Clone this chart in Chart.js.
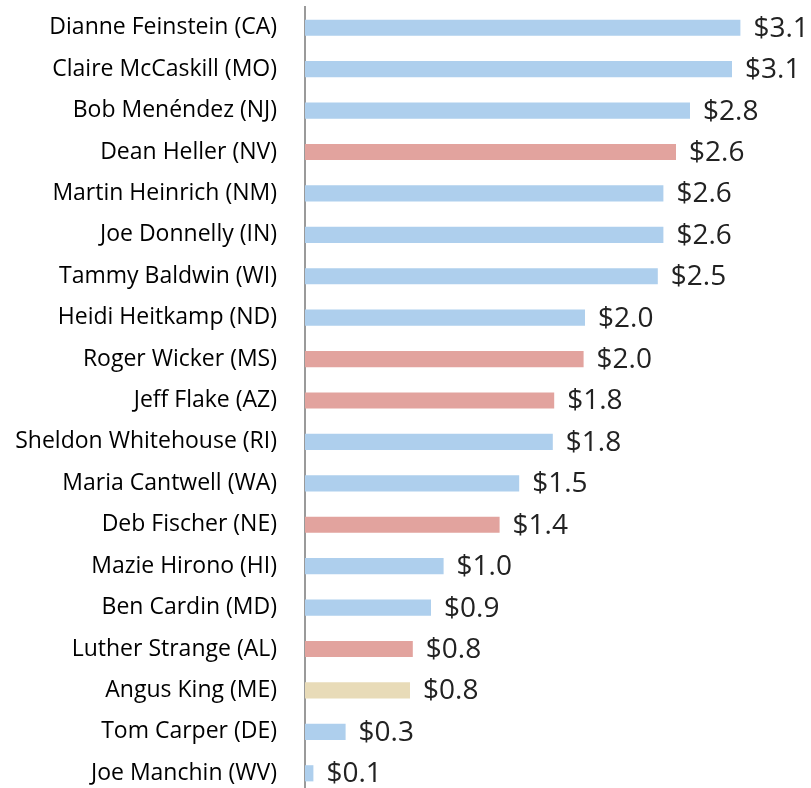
<!DOCTYPE html>
<html>
<head>
<meta charset="utf-8">
<script src="https://cdn.jsdelivr.net/npm/chart.js@4.4.1/dist/chart.umd.min.js"></script>
<style>
    html, body { margin: 0; padding: 0; background: #fff; overflow: hidden; }
    canvas { display: block; }
</style>
</head>
<body>
<canvas id="chart" width="811" height="794"></canvas>
<script>
const senators = [
    'Dianne Feinstein (CA)', 'Claire McCaskill (MO)', 'Bob Menéndez (NJ)', 'Dean Heller (NV)',
    'Martin Heinrich (NM)', 'Joe Donnelly (IN)', 'Tammy Baldwin (WI)', 'Heidi Heitkamp (ND)',
    'Roger Wicker (MS)', 'Jeff Flake (AZ)', 'Sheldon Whitehouse (RI)', 'Maria Cantwell (WA)',
    'Deb Fischer (NE)', 'Mazie Hirono (HI)', 'Ben Cardin (MD)', 'Luther Strange (AL)',
    'Angus King (ME)', 'Tom Carper (DE)', 'Joe Manchin (WV)'
];
const amounts = [3.11, 3.05, 2.75, 2.65, 2.56, 2.56, 2.52, 2.0, 1.99, 1.78, 1.77, 1.53, 1.39, 0.99, 0.9, 0.77, 0.75, 0.29, 0.06];
const amountLabels = ['$3.1', '$3.1', '$2.8', '$2.6', '$2.6', '$2.6', '$2.5', '$2.0', '$2.0', '$1.8', '$1.8', '$1.5', '$1.4', '$1.0', '$0.9', '$0.8', '$0.8', '$0.3', '$0.1'];
const parties = ['D', 'D', 'D', 'R', 'D', 'D', 'D', 'D', 'R', 'R', 'D', 'D', 'R', 'D', 'D', 'R', 'I', 'D', 'D'];

const partyColors = { D: '#aecfed', R: '#e2a39e', I: '#e8dbb8' };

const valueLabelPlugin = {
    id: 'valueLabels',
    afterDatasetsDraw(chart) {
        const ctx = chart.ctx;
        const meta = chart.getDatasetMeta(0);
        ctx.save();
        ctx.font = '28px "Open Sans"';
        ctx.fillStyle = '#222';
        ctx.textBaseline = 'middle';
        ctx.textAlign = 'left';
        meta.data.forEach((bar, i) => {
            ctx.fillText(amountLabels[i], bar.x + 13, bar.y + 1);
        });
        ctx.restore();
    }
};

new Chart(document.getElementById('chart'), {
    type: 'bar',
    data: {
        labels: senators,
        datasets: [{
            data: amounts,
            backgroundColor: parties.map((p) => partyColors[p]),
            borderWidth: 0,
            barPercentage: 0.39,
            categoryPercentage: 1
        }]
    },
    options: {
        indexAxis: 'y',
        responsive: false,
        animation: false,
        layout: { padding: { top: 7, right: 2, bottom: 0, left: 0 } },
        plugins: {
            legend: { display: false },
            tooltip: { enabled: false }
        },
        scales: {
            x: {
                display: false,
                min: 0,
                max: 3.6
            },
            y: {
                afterFit: (scale) => {
                    scale.width = 305;
                    // tick padding would otherwise push the plot in from top and bottom
                    scale.paddingTop = 0;
                    scale.paddingBottom = 0;
                },
                grid: { display: false, drawTicks: false },
                border: { display: true, color: '#9a9a9a', width: 2 },
                ticks: {
                    padding: 28,
                    color: '#000',
                    font: { family: '"Open Sans"', size: 23 }
                }
            }
        }
    },
    plugins: [valueLabelPlugin]
});
</script>
</body>
</html>
